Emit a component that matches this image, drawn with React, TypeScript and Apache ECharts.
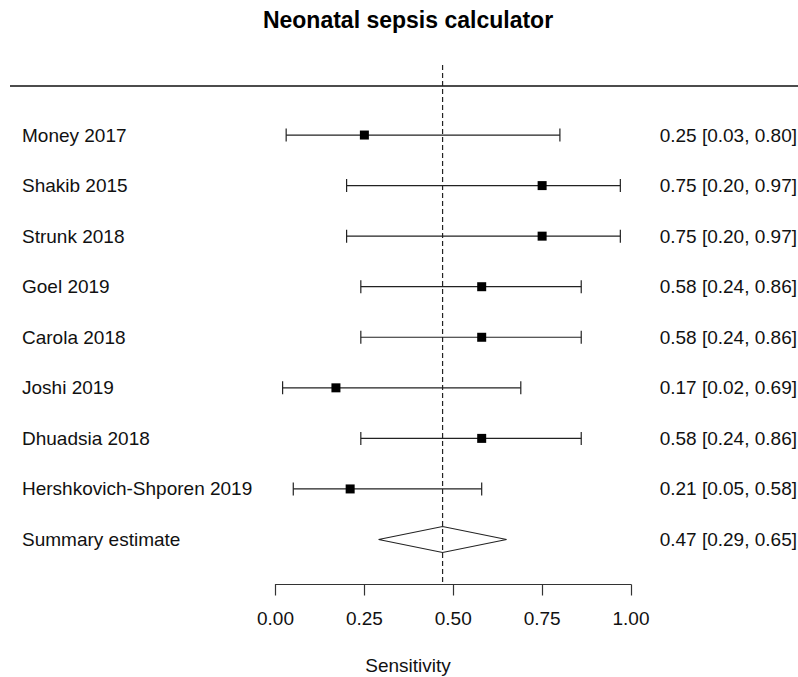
import React, { useEffect, useRef } from "react";
import * as echarts from "echarts";

const studies = [
  "Money 2017",
  "Shakib 2015",
  "Strunk 2018",
  "Goel 2019",
  "Carola 2018",
  "Joshi 2019",
  "Dhuadsia 2018",
  "Hershkovich-Shporen 2019",
];
const estimates = [0.25, 0.75, 0.75, 0.58, 0.58, 0.17, 0.58, 0.21];
const lowerCI = [0.03, 0.2, 0.2, 0.24, 0.24, 0.02, 0.24, 0.05];
const upperCI = [0.8, 0.97, 0.97, 0.86, 0.86, 0.69, 0.86, 0.58];
const summaryLabel = "Summary estimate";
const summaryEstimate = 0.47;
const summaryLower = 0.29;
const summaryUpper = 0.65;
const xTicks = [0, 0.25, 0.5, 0.75, 1];

const FONT = "'Liberation Sans', Arial, Helvetica, sans-serif";
const FS = 19;
const fmt = (v: number) => v.toFixed(2);
const ciText = (e: number, l: number, u: number) => `${fmt(e)} [${fmt(l)}, ${fmt(u)}]`;

export default function App() {
  const ref = useRef<HTMLDivElement>(null);
  useEffect(() => {
    if (!ref.current) return;
    const chart = echarts.init(ref.current, null, { renderer: "svg" });
    const studyData = studies.map((_, i) => [i, estimates[i], lowerCI[i], upperCI[i]]);
    const summaryRow = studies.length;
    const textStyle = (text: string, x: number, y: number, align: string) => ({
      text,
      x,
      y,
      align,
      verticalAlign: "middle",
      fontSize: FS,
      fontFamily: FONT,
      fill: "#111",
    });
    const option: any = {
      animation: false,
      grid: { left: 275.5, right: 167, top: 86, bottom: 92.5 },
      xAxis: {
        type: "value",
        min: xTicks[0],
        max: xTicks[xTicks.length - 1],
        interval: 0.25,
        axisLine: { show: true, onZero: false, lineStyle: { color: "#333", width: 1.2 } },
        axisTick: { show: true, length: 11, lineStyle: { color: "#333", width: 1.2 } },
        axisLabel: {
          formatter: (v: number) => fmt(v),
          fontSize: FS,
          fontFamily: FONT,
          color: "#111",
          margin: 24,
        },
        splitLine: { show: false },
      },
      yAxis: {
        type: "value",
        min: -0.97,
        max: 8.89,
        inverse: true,
        show: false,
      },
      graphic: [
        {
          type: "text",
          x: 408,
          y: 20,
          style: {
            text: "Neonatal sepsis calculator",
            align: "center",
            verticalAlign: "middle",
            fontSize: 23,
            fontWeight: "bold",
            fontFamily: FONT,
            fill: "#000",
          },
        },
        {
          type: "line",
          shape: { x1: 10, y1: 86, x2: 798, y2: 86 },
          style: { stroke: "#111", lineWidth: 1.3 },
        },
        {
          type: "text",
          x: 408,
          y: 665,
          style: {
            text: "Sensitivity",
            align: "center",
            verticalAlign: "middle",
            fontSize: FS,
            fontFamily: FONT,
            fill: "#111",
          },
        },
      ],
      series: [
        {
          type: "custom",
          data: [[summaryRow, summaryEstimate, summaryLower, summaryUpper]],
          encode: { x: [1, 2, 3], y: 0 },
          z: 1,
          renderItem: (params: any, api: any) => {
            const row = api.value(0);
            const e = api.value(1);
            const l = api.value(2);
            const u = api.value(3);
            const pE = api.coord([e, row]);
            const pL = api.coord([l, row]);
            const pU = api.coord([u, row]);
            const y = pE[1];
            const cs = params.coordSys;
            return {
              type: "group",
              children: [
                {
                  type: "line",
                  shape: { x1: pE[0], y1: 65, x2: pE[0], y2: cs.y + cs.height },
                  style: { stroke: "#222", lineWidth: 1.2, lineDash: [5, 3] },
                },
                {
                  type: "polygon",
                  shape: {
                    points: [
                      [pL[0], y],
                      [pE[0], y - 13],
                      [pU[0], y],
                      [pE[0], y + 13],
                    ],
                  },
                  style: { fill: "rgba(255,255,255,0)", stroke: "#222", lineWidth: 1.1 },
                },
                { type: "text", style: textStyle(summaryLabel, 22, y, "left") },
                { type: "text", style: textStyle(ciText(e, l, u), 797, y, "right") },
              ],
            };
          },
        },
        {
          type: "custom",
          data: studyData,
          encode: { x: [1, 2, 3], y: 0 },
          z: 2,
          renderItem: (params: any, api: any) => {
            const row = api.value(0);
            const e = api.value(1);
            const l = api.value(2);
            const u = api.value(3);
            const pE = api.coord([e, row]);
            const pL = api.coord([l, row]);
            const pU = api.coord([u, row]);
            const y = pE[1];
            const cap = 6.5;
            const sq = 9;
            const stroke = { stroke: "#222", lineWidth: 1.2 };
            return {
              type: "group",
              children: [
                { type: "line", shape: { x1: pL[0], y1: y, x2: pU[0], y2: y }, style: stroke },
                { type: "line", shape: { x1: pL[0], y1: y - cap, x2: pL[0], y2: y + cap }, style: stroke },
                { type: "line", shape: { x1: pU[0], y1: y - cap, x2: pU[0], y2: y + cap }, style: stroke },
                {
                  type: "rect",
                  shape: { x: pE[0] - sq / 2, y: y - sq / 2, width: sq, height: sq },
                  style: { fill: "#000" },
                },
                { type: "text", style: textStyle(studies[row], 22, y, "left") },
                { type: "text", style: textStyle(ciText(e, l, u), 797, y, "right") },
              ],
            };
          },
        },
      ],
    };
    chart.setOption(option);
    return () => chart.dispose();
  }, []);
  return (
    <div
      ref={ref}
      style={{ position: "fixed", left: 0, top: 0, width: 798, height: 677, background: "#fff" }}
    />
  );
}
